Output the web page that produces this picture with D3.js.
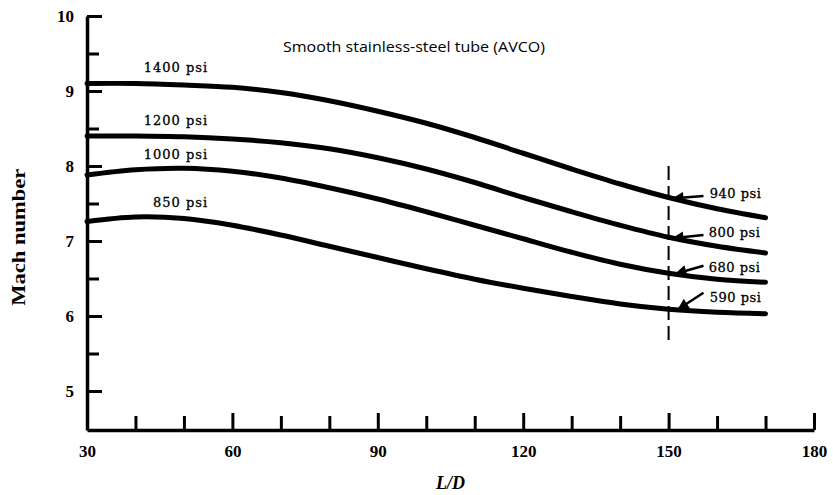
<!DOCTYPE html>
<html>
<head>
<meta charset="utf-8">
<script src="https://cdn.jsdelivr.net/npm/d3@7"></script>
<style>
  html, body { margin: 0; padding: 0; background: #fff; }
  svg { display: block; }
</style>
</head>
<body>
<svg id="chart" width="833" height="495"></svg>
<script>
// ---- data ----
const ldValues = [30, 40, 50, 60, 70, 80, 90, 100, 110, 120, 130, 140, 150, 160, 170];
const mach1400 = [9.10, 9.10, 9.08, 9.05, 8.98, 8.87, 8.73, 8.57, 8.38, 8.17, 7.96, 7.76, 7.58, 7.43, 7.31];
const mach1200 = [8.40, 8.40, 8.39, 8.36, 8.31, 8.23, 8.11, 7.96, 7.78, 7.58, 7.39, 7.21, 7.05, 6.93, 6.84];
const mach1000 = [7.88, 7.95, 7.97, 7.93, 7.84, 7.71, 7.56, 7.39, 7.21, 7.03, 6.85, 6.69, 6.57, 6.49, 6.45];
const mach850  = [7.26, 7.32, 7.30, 7.21, 7.08, 6.93, 6.78, 6.63, 6.49, 6.37, 6.26, 6.16, 6.09, 6.05, 6.03];

const seriesNames = ["1400 psi", "1200 psi", "1000 psi", "850 psi"];
const seriesLabelLD = [55, 55, 55, 55];
const seriesLabelMach = [9.31, 8.61, 8.15, 7.52];

const endNames = ["940 psi", "800 psi", "680 psi", "590 psi"];
const endLabelLD = [158.5, 158.3, 158.3, 158.5];
const endLabelMach = [7.64, 7.12, 6.65, 6.25];
const arrowFromLD = [157.2, 157.2, 157.2, 157.2];
const arrowFromMach = [7.60, 7.08, 6.67, 6.31];
const arrowToLD = [151.2, 151.2, 151.8, 152.2];
const arrowToMach = [7.57, 7.04, 6.57, 6.10];

const refLD = 150;
const refMachRange = [5.65, 8.0];

const xTicksMajor = [30, 60, 90, 120, 150, 180];
const xTicksMinor = [40, 50, 70, 80, 100, 110, 130, 140, 160, 170];
const yTicksMajor = [5, 6, 7, 8, 9, 10];
const yTicksMinor = [5.5, 6.5, 7.5, 8.5, 9.5];

const titleText = "Smooth stainless-steel tube (AVCO)";
const xTitle = "L/D";
const yTitle = "Mach number";

// ---- drawing ----
const svg = d3.select("#chart");
const x = d3.scaleLinear().domain([30, 180]).range([87, 814]);
const y = d3.scaleLinear().domain([4.48, 10]).range([430, 16]);

const serif = "'Liberation Serif', 'DejaVu Serif', serif";

// axes
const gy = svg.append("g").attr("transform", `translate(${x(30)},0)`);
gy.call(d3.axisLeft(y).tickValues(yTicksMinor).tickSize(-12).tickSizeOuter(0).tickFormat(""));
gy.call(g => g.select(".domain").remove());
const gy2 = svg.append("g").attr("transform", `translate(${x(30)},0)`);
gy2.call(d3.axisLeft(y).tickValues(yTicksMajor).tickSize(-15).tickSizeOuter(0).tickPadding(13).tickFormat(d3.format("d")));

const gx = svg.append("g").attr("transform", `translate(0,${y(4.48)})`);
gx.call(d3.axisBottom(x).tickValues(xTicksMinor).tickSize(-14).tickSizeOuter(0).tickFormat(""));
gx.call(g => g.select(".domain").remove());
const gx2 = svg.append("g").attr("transform", `translate(0,${y(4.48)})`);
gx2.call(d3.axisBottom(x).tickValues(xTicksMajor).tickSize(-17).tickSizeOuter(0).tickPadding(15).tickFormat(d3.format("d")));

svg.selectAll(".domain").attr("stroke", "#000").attr("stroke-width", 3.5);
svg.selectAll(".tick line").attr("stroke", "#000").attr("stroke-width", 3);
svg.selectAll(".tick text")
  .attr("font-family", serif)
  .attr("font-size", 17)
  .attr("font-weight", "bold")
  .attr("fill", "#000");

// axis titles
svg.append("text")
  .attr("x", x(105)).attr("y", 489)
  .attr("text-anchor", "middle")
  .attr("font-family", serif).attr("font-size", 18)
  .attr("font-weight", "bold").attr("font-style", "italic")
  .text(xTitle);

svg.append("text")
  .attr("transform", `translate(25,${y(7.05)}) rotate(-90)`)
  .attr("text-anchor", "middle")
  .attr("font-family", serif).attr("font-size", 18)
  .attr("font-weight", "bold")
  .attr("textLength", 137).attr("lengthAdjust", "spacingAndGlyphs")
  .text(yTitle);

// title
svg.append("text")
  .attr("x", 283).attr("y", 52)
  .attr("font-family", "'Open Sans', 'Noto Sans', sans-serif")
  .attr("font-size", 14.5)
  .attr("font-weight", 500)
  .attr("textLength", 262).attr("lengthAdjust", "spacingAndGlyphs")
  .text(titleText);

// curves
const allSeries = [mach1400, mach1200, mach1000, mach850];
const line = d3.line()
  .x((d, i) => x(ldValues[i]))
  .y(d => y(d))
  .curve(d3.curveCatmullRom.alpha(0.5));

svg.append("g").selectAll("path")
  .data(allSeries)
  .join("path")
  .attr("d", d => line(d))
  .attr("fill", "none")
  .attr("stroke", "#000")
  .attr("stroke-width", 5)
  .attr("stroke-linecap", "round");

// series labels
svg.append("g").selectAll("text")
  .data(seriesNames)
  .join("text")
  .attr("x", (d, i) => x(seriesLabelLD[i]))
  .attr("y", (d, i) => y(seriesLabelMach[i]))
  .attr("dy", "0.35em")
  .attr("text-anchor", "end")
  .attr("font-family", "'DejaVu Serif', serif")
  .attr("font-size", 13)
  .attr("letter-spacing", 1)
  .attr("stroke", "#000").attr("stroke-width", 0.3)
  .text(d => d);

// reference dashed line
svg.append("line")
  .attr("x1", x(refLD)).attr("x2", x(refLD))
  .attr("y1", y(refMachRange[1])).attr("y2", y(refMachRange[0]))
  .attr("stroke", "#000").attr("stroke-width", 2)
  .attr("stroke-dasharray", "14,6");

// arrows
svg.append("defs").append("marker")
  .attr("id", "arrow")
  .attr("viewBox", "0 0 10 10")
  .attr("refX", 8).attr("refY", 5)
  .attr("markerWidth", 5).attr("markerHeight", 4.5)
  .attr("markerUnits", "strokeWidth")
  .attr("orient", "auto")
  .append("path").attr("d", "M0,0 L10,5 L0,10 Z").attr("fill", "#000");

svg.append("g").selectAll("line")
  .data(endNames)
  .join("line")
  .attr("x1", (d, i) => x(arrowFromLD[i]))
  .attr("y1", (d, i) => y(arrowFromMach[i]))
  .attr("x2", (d, i) => x(arrowToLD[i]))
  .attr("y2", (d, i) => y(arrowToMach[i]))
  .attr("stroke", "#000").attr("stroke-width", 2.5)
  .attr("marker-end", "url(#arrow)");

svg.append("g").selectAll("text")
  .data(endNames)
  .join("text")
  .attr("x", (d, i) => x(endLabelLD[i]))
  .attr("y", (d, i) => y(endLabelMach[i]))
  .attr("dy", "0.35em")
  .attr("font-family", "'DejaVu Serif', serif")
  .attr("font-size", 13)
  .attr("letter-spacing", 0.5)
  .attr("stroke", "#000").attr("stroke-width", 0.3)
  .text(d => d);
</script>
</body>
</html>
